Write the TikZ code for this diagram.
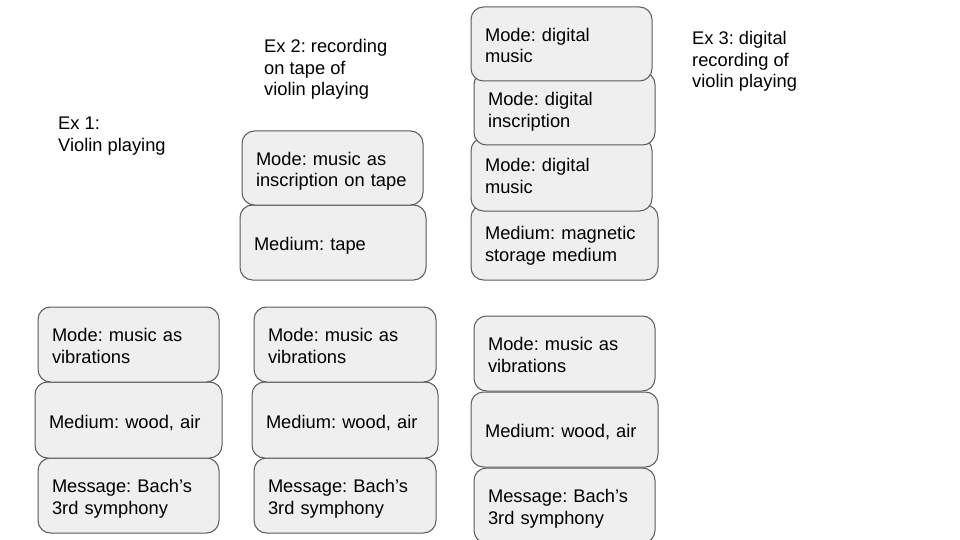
\documentclass[tikz,border=0pt]{standalone}
\usepackage{fontspec}
\setmainfont{Liberation Sans}
\definecolor{boxfill}{HTML}{EFEFEF}
\definecolor{boxline}{HTML}{595959}
\newcommand\boxfont{\fontsize{18.3pt}{21.5pt}\selectfont\frenchspacing}
\begin{document}
\begin{tikzpicture}[x=1pt,y=-1pt,
  box/.style={draw=boxline, fill=boxfill, line width=1pt, rounded corners=12.5pt,
    inner xsep=14pt, inner ysep=0pt, align=left, font=\boxfont,
    text height=16.2pt, text depth=0pt},
  twol/.style={text depth=21.5pt},
  lbl/.style={anchor=base west, inner sep=0pt, align=left, font=\boxfont}]
\useasboundingbox (0,0) rectangle (960,540);
\clip (0,0) rectangle (960,540);
% Example 1
\node[box, twol, minimum width=181pt, minimum height=75pt, text width=153pt] (a3) at (128.5,495.5) {Message:~Bach's\\3rd~symphony};
\node[box, minimum width=187pt, minimum height=76pt, text width=159pt] (a2) at (128.5,420) {Medium:~wood,~air};
\node[box, twol, minimum width=181pt, minimum height=75pt, text width=153pt] (a1) at (128.5,344.5) {Mode:~music~as\\vibrations};
% Example 2
\node[box, twol, minimum width=182pt, minimum height=75pt, text width=154pt] (b3) at (345,495.5) {Message:~Bach's\\3rd~symphony};
\node[box, minimum width=186pt, minimum height=76pt, text width=158pt] (b2) at (345,420) {Medium:~wood,~air};
\node[box, twol, minimum width=182pt, minimum height=75pt, text width=154pt] (b1) at (345,344.5) {Mode:~music~as\\vibrations};
\node[box, minimum width=186pt, minimum height=75pt, text width=158pt] (b5) at (333,242.5) {Medium:~tape};
\node[box, twol, minimum width=181pt, minimum height=74pt, text width=153pt] (b4) at (332.5,168) {Mode:~music~as\\inscription~on~tape};
% Example 3
\node[box, twol, minimum width=181pt, minimum height=75pt, text width=153pt] (c3) at (564.5,505.5) {Message:~Bach's\\3rd~symphony};
\node[box, minimum width=187pt, minimum height=75pt, text width=159pt] (c2) at (564.5,429.5) {Medium:~wood,~air};
\node[box, twol, minimum width=181pt, minimum height=75pt, text width=153pt] (c1) at (564.5,353.5) {Mode:~music~as\\vibrations};
\node[box, twol, minimum width=187pt, minimum height=75pt, text width=159pt] (c7) at (564.5,242.5) {Medium:~magnetic\\storage~medium};
\node[box, twol, minimum width=181pt, minimum height=73pt, text width=153pt] (c6) at (561.5,174.5) {Mode:~digital\\music};
\node[box, twol, minimum width=181pt, minimum height=73pt, text width=153pt] (c5) at (564.5,108.5) {Mode:~digital\\inscription};
\node[box, twol, minimum width=181pt, minimum height=74pt, text width=153pt] (c4) at (561.5,44) {Mode:~digital\\music};
% Labels (base anchor = last line)
\node[lbl] (ex1) at (58,151.5) {Ex 1:\\Violin playing};
\node[lbl] (ex2) at (264,95.7) {Ex 2: recording\\on tape of\\violin playing};
\node[lbl] (ex3) at (692,88) {Ex 3: digital\\recording of\\violin playing};
\end{tikzpicture}
\end{document}
